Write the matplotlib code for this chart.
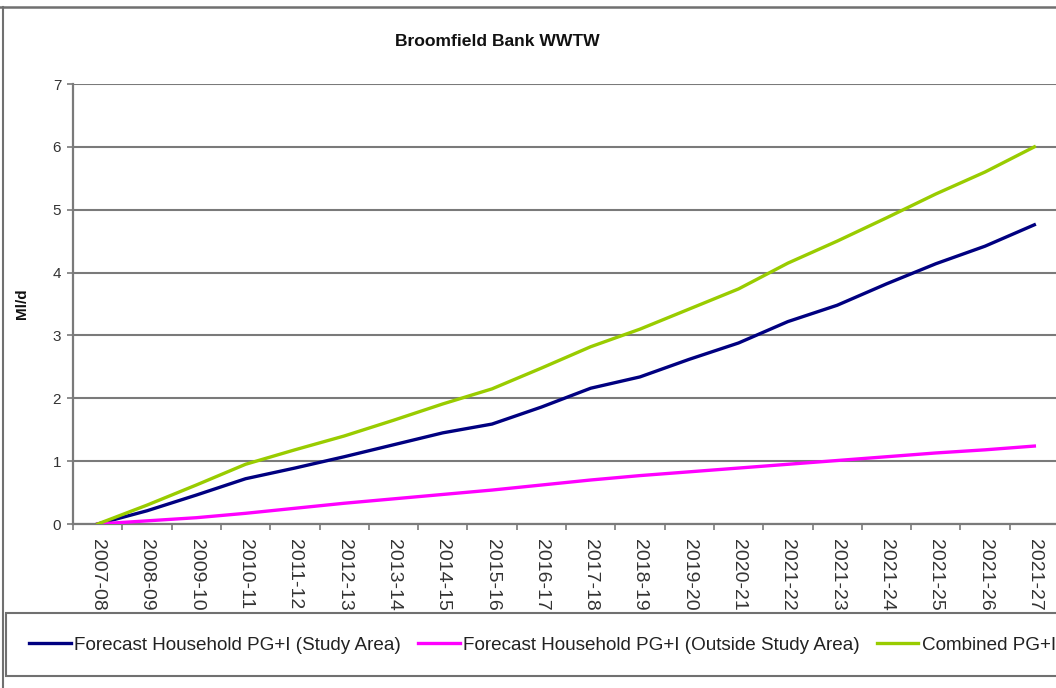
import matplotlib
matplotlib.use("Agg")
import matplotlib.pyplot as plt
from matplotlib.lines import Line2D
from matplotlib.patches import Rectangle
from matplotlib.ticker import FixedLocator

plt.rcParams['font.family'] = ['Liberation Sans', 'DejaVu Sans']

years = ['2007-08', '2008-09', '2009-10', '2010-11', '2011-12', '2012-13',
         '2013-14', '2014-15', '2015-16', '2016-17', '2017-18', '2018-19',
         '2019-20', '2020-21', '2021-22', '2021-23', '2021-24', '2021-25',
         '2021-26', '2021-27']

# Ml/d
study_area = [0, 0.21, 0.46, 0.72, 0.89, 1.07, 1.26, 1.45, 1.59, 1.86,
              2.16, 2.34, 2.62, 2.88, 3.22, 3.48, 3.82, 4.14, 4.42, 4.76]
outside_area = [0, 0.05, 0.10, 0.17, 0.25, 0.33, 0.40, 0.47, 0.54, 0.62,
                0.70, 0.77, 0.83, 0.89, 0.95, 1.01, 1.07, 1.13, 1.18, 1.24]
combined = [0, 0.30, 0.62, 0.95, 1.18, 1.40, 1.65, 1.91, 2.15, 2.48,
            2.82, 3.10, 3.42, 3.74, 4.15, 4.50, 4.87, 5.25, 5.60, 6.00]

W, H = 1056, 688
fig = plt.figure(figsize=(W / 100, H / 100), dpi=100)
fig.patch.set_facecolor('white')

# plot area runs a little past the right edge of the sheet
ax = fig.add_axes([73 / W, (H - 524) / H, 986 / W, 440 / H])
ax.set_facecolor('white')

x = list(range(len(years)))
ax.plot(x, study_area, color='#000080', lw=2.4, label='Forecast Household PG+I (Study Area)', zorder=3)
ax.plot(x, outside_area, color='#FF00FF', lw=2.4, label='Forecast Household PG+I (Outside Study Area)', zorder=3)
ax.plot(x, combined, color='#99CC00', lw=2.4, label='Combined PG+I', zorder=3)

ax.set_xlim(-0.5, len(years) - 0.5)
ax.set_ylim(0, 7)
ax.set_yticks(range(0, 8))
ax.yaxis.grid(True, color='#7a7a7a', lw=1.5)
ax.set_axisbelow(True)

for s in ['top', 'right']:
    ax.spines[s].set_visible(False)
for s in ['left', 'bottom']:
    ax.spines[s].set_color('#7a7a7a')
    ax.spines[s].set_linewidth(1.6)

ax.tick_params(axis='y', direction='out', length=4.5, width=1.2, color='#7a7a7a',
               labelsize=11, labelcolor='#333333', pad=4)
ax.set_xticks(x)
ax.set_xticklabels(years, rotation=270, fontsize=14, color='#333333', va='top', ha='center')
ax.tick_params(axis='x', which='major', length=0, pad=11)
ax.xaxis.set_minor_locator(FixedLocator([i - 0.5 for i in range(len(years) + 1)]))
ax.tick_params(axis='x', which='minor', direction='out', length=4.5, width=1.2, color='#7a7a7a')

ax.set_ylabel('Ml/d', fontsize=11, fontweight='bold', color='#111111')
ax.yaxis.set_label_coords((29 - 73) / 986, 0.5)

fig.text(497 / W, 1 - 42 / H, 'Broomfield Bank WWTW', ha='center', va='center',
         fontsize=12.6, fontweight='bold', color='#111111')

# chart frame
fig.add_artist(Line2D([0, 1], [1 - 7 / H, 1 - 7 / H], transform=fig.transFigure,
                      color='#707070', lw=1.8))
fig.add_artist(Line2D([3 / W, 3 / W], [0, 1 - 7 / H], transform=fig.transFigure,
                      color='#707070', lw=1.5))

# legend box
fig.add_artist(Rectangle((6 / W, (H - 676) / H), 1.2, 63 / H, transform=fig.transFigure,
                         facecolor='white', edgecolor='#707070', lw=1.5, zorder=3))
fig.legend(loc='center left', bbox_to_anchor=(20 / W, (H - 645) / H), ncol=3,
           frameon=False, fontsize=13.6, borderpad=0, handlelength=2.2,
           handletextpad=0.18, columnspacing=0.9, labelcolor='#222222')

fig.savefig('out.png', dpi=100, facecolor='white')
